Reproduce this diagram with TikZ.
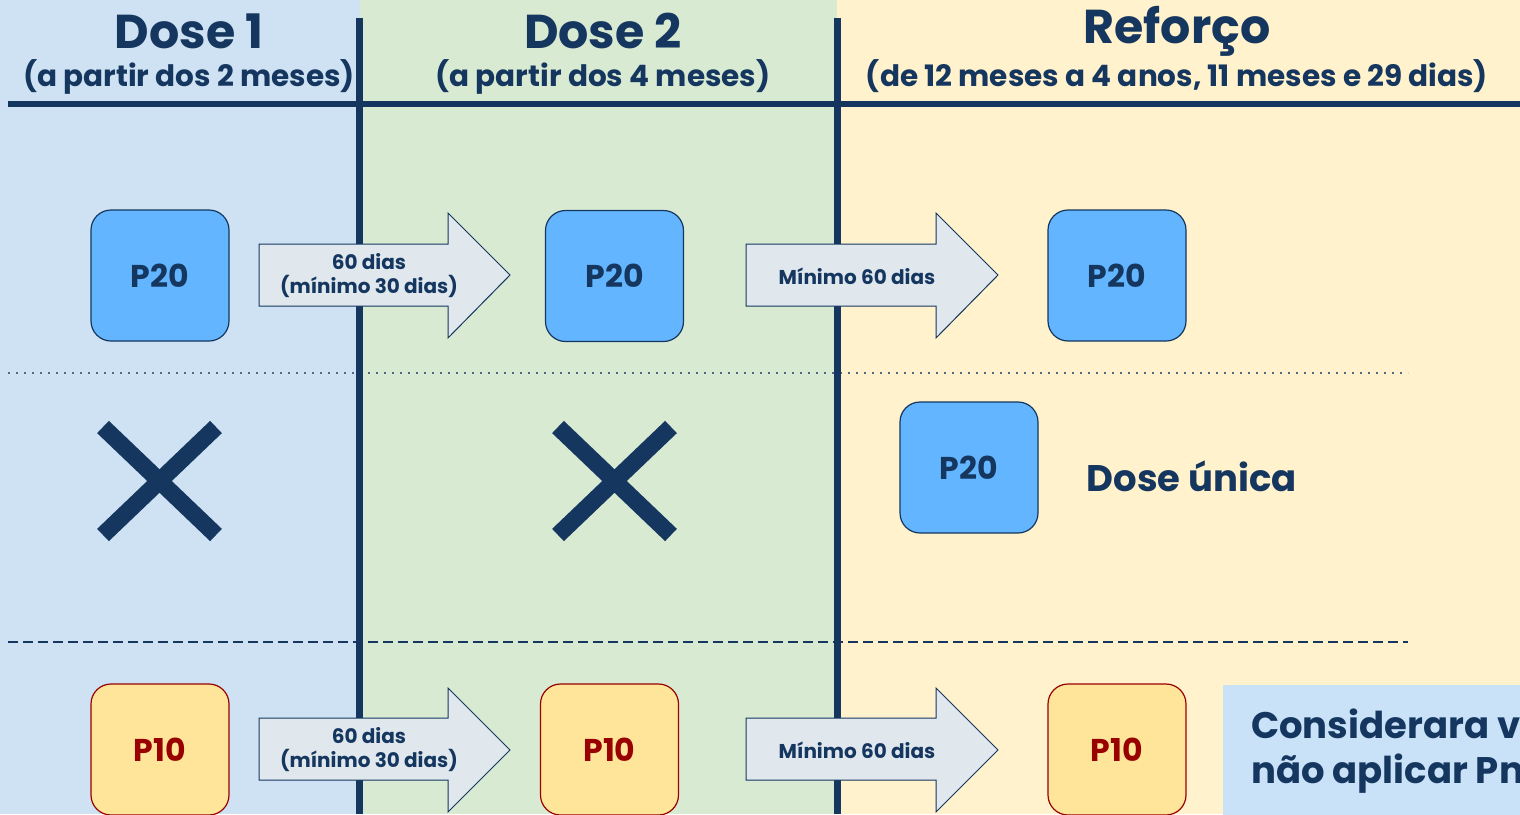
\documentclass[tikz,border=0pt]{standalone}
\usepackage{fontspec}
\setmainfont{Poppins}
\definecolor{navy}{HTML}{14365F}
\definecolor{bgblue}{HTML}{CFE2F3}
\definecolor{bggreen}{HTML}{D9EAD3}
\definecolor{bgyellow}{HTML}{FFF2CC}
\definecolor{pblue}{HTML}{63B5FF}
\definecolor{pyellow}{HTML}{FFE599}
\definecolor{pred}{HTML}{990000}
\definecolor{arrowfill}{HTML}{E0E8EE}
\definecolor{notebox}{HTML}{C9E2F8}
\tikzset{
  pbox/.style={draw=navy, line width=1.2pt, fill=pblue, rounded corners=20pt,
    minimum width=138pt, minimum height=131pt, text=navy,
    font=\fontsize{31.5}{31.5}\selectfont\bfseries},
  qbox/.style={pbox, draw=pred, fill=pyellow, text=pred},
  arrowshape/.style={draw=navy, line width=1pt, fill=arrowfill},
  arrowtext/.style={text=navy, align=center, font=\fontsize{20}{24}\selectfont\bfseries},
  title/.style={text=navy, font=\fontsize{47.5}{48}\selectfont\bfseries},
  subtitle/.style={text=navy, font=\fontsize{29.5}{30}\selectfont\bfseries},
  divider/.style={navy, line width=6.5pt},
  xmark/.style={navy, line width=17pt},
}
\begin{document}
\begin{tikzpicture}[x=1pt,y=-1pt]
\useasboundingbox (0,0) rectangle (1520,814);
\clip (0,0) rectangle (1520,814);
% backgrounds
\fill[bgblue] (0,0) rectangle (360,814);
\fill[bggreen] (360,0) rectangle (837,814);
\fill[bgyellow] (837,0) rectangle (1520,814);
% row separators
\draw[navy!75, line width=2pt, dash pattern=on 2pt off 6pt] (8,373) -- (1408,373);
\draw[navy, line width=2pt, dash pattern=on 10pt off 5pt] (8,642) -- (1408,642);
% dividers
\coordinate (h1) at (8,104);
\coordinate (h2) at (1520,104);
\coordinate (v1t) at (359.5,18);
\coordinate (v1b) at (359.5,814);
\coordinate (v2t) at (837.5,18);
\coordinate (v2b) at (837.5,814);
\draw[divider] (h1) -- (h2);
\draw[divider] (v1t) -- (v1b);
\draw[divider] (v2t) -- (v2b);
% headers
\node[title] (t1) at (189,31) {Dose 1};
\node[subtitle] (s1) at (189,76.5) {(a partir dos 2 meses)};
\node[title] (t2) at (603,31) {Dose 2};
\node[subtitle] (s2) at (603,76.5) {(a partir dos 4 meses)};
\node[title] (t3) at (1177,31) {Reforço};
\node[subtitle] (s3) at (1177,76.5) {(de 12 meses a 4 anos, 11 meses e 29 dias)};
% row 1
\node[pbox] (a1) at (160,275.5) {P20};
\node[pbox] (a2) at (614.5,276) {P20};
\node[pbox] (a3) at (1117,275.5) {P20};
\draw[arrowshape] (259,244) -- (448,244) -- (448,213) -- (510,275) -- (448,338) -- (448,306) -- (259,306) -- cycle;
\node[arrowtext] (l1) at (369,276) {60 dias\\(mínimo 30 dias)};
\draw[arrowshape] (746,244) -- (936,244) -- (936,213) -- (998,275) -- (936,338) -- (936,306) -- (746,306) -- cycle;
\node[arrowtext] (l2) at (857,276) {Mínimo 60 dias};
% row 2
\draw[xmark] (103,427) -- (216,535);
\draw[xmark] (103,535) -- (216,427);
\draw[xmark] (558,427) -- (671,535);
\draw[xmark] (558,535) -- (671,427);
\node[pbox] (b1) at (969,467.5) {P20};
\node[anchor=west, text=navy, font=\fontsize{37}{37}\selectfont\bfseries] (du) at (1083,476.5) {Dose única};
% row 3
\node[qbox] (c1) at (160,749.5) {P10};
\node[qbox] (c2) at (609.5,749.5) {P10};
\node[qbox] (c3) at (1117,749.5) {P10};
\draw[arrowshape] (259,718) -- (448,718) -- (448,688) -- (510,750) -- (448,812) -- (448,780) -- (259,780) -- cycle;
\node[arrowtext] (l3) at (369,750) {60 dias\\(mínimo 30 dias)};
\draw[arrowshape] (746,718) -- (936,718) -- (936,688) -- (998,750) -- (936,812) -- (936,780) -- (746,780) -- cycle;
\node[arrowtext] (l4) at (857,750) {Mínimo 60 dias};
% note box
\fill[notebox] (1223,685) rectangle (1560,830);
\node[anchor=north west, text=navy, align=left, font=\fontsize{37}{45}\selectfont\bfseries, inner sep=0pt] (note) at (1251,709) {Considerara v\\não aplicar Pn};
\end{tikzpicture}
\end{document}
